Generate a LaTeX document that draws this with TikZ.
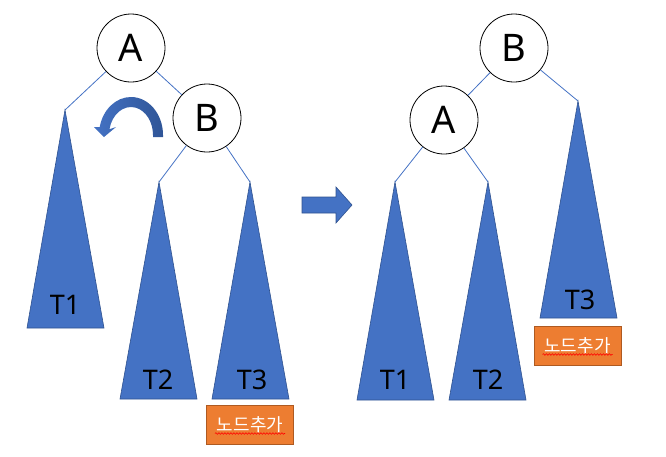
\documentclass[tikz,border=0pt]{standalone}
\usepackage{fontspec}
\setmainfont{Noto Sans}
\newfontfamily\kr{Noto Sans CJK KR}
\usetikzlibrary{decorations.pathmorphing}
\definecolor{tblue}{HTML}{4472C4}
\definecolor{tborder}{HTML}{2F528F}
\definecolor{dblue}{HTML}{2F5597}
\definecolor{torange}{HTML}{ED7D31}
\definecolor{oborder}{HTML}{AE5A21}
\tikzset{
  treenode/.style={circle, draw=black, line width=0.8pt, fill=white, minimum size=68pt, inner sep=0pt, font=\fontsize{38}{40}\selectfont},
  edge/.style={draw=tblue, line width=0.8pt},
  subtree/.style={fill=tblue, draw=tborder, line width=0.6pt},
  tlabel/.style={font=\fontsize{27}{30}\selectfont, inner sep=0pt},
  addbox/.style={fill=torange, draw=oborder, line width=0.8pt, minimum width=87pt, minimum height=39pt, inner sep=0pt, text=white, font=\kr\fontsize{18}{20}\selectfont},
  squiggle/.style={draw=red, line width=0.6pt, decorate, decoration={snake, amplitude=0.8pt, segment length=3pt}},
  blockarrow/.style={fill=tblue, draw=tborder, line width=0.6pt}
}
\begin{document}
\begin{tikzpicture}[x=1pt,y=-1pt]
\useasboundingbox (0,0) rectangle (666,456);
% ---------- left tree ----------
\node[treenode] (A1) at (131,48) {A};
\node[treenode] (B1) at (207,118) {B};
\coordinate (t1a) at (65,110);
\coordinate (t2a) at (159,182);
\coordinate (t3a) at (250,182);
\draw[edge] (A1) -- (B1);
\draw[edge] (A1) -- (t1a);
\draw[edge] (B1) -- (t2a);
\draw[edge] (B1) -- (t3a);
\path[subtree] (t1a) -- (27,328) -- (104,328) -- cycle;
\path[subtree] (t2a) -- (120,399) -- (197,399) -- cycle;
\path[subtree] (t3a) -- (212,399) -- (289,399) -- cycle;
\node[tlabel] (l1) at (65,305) {T1};
\node[tlabel] (l2) at (158,380) {T2};
\node[tlabel] (l3) at (252,380) {T3};
\node[addbox] (add1) at (250,424.5) {노드추가};
\draw[squiggle] ([shift={(-35,9)}]add1.center) -- ([shift={(35,9)}]add1.center);
% rotation arrow
\path[left color=tblue, right color=dblue]
  (163,137) -- (163,135) arc[start angle=0, end angle=-168, x radius=32, y radius=38]
  -- (94,127) -- (104,137) -- (116,127) -- (109.48,129.2)
  arc[start angle=-168, end angle=0, x radius=22, y radius=28]
  -- (153,137) -- cycle;
% ---------- middle arrow ----------
\path[blockarrow] (302,197) -- (336,197) -- (336,187) -- (352,205) -- (336,223) -- (336,213) -- (302,213) -- cycle;
% ---------- right tree ----------
\node[treenode] (B2) at (514,48) {B};
\node[treenode] (A2) at (444,120) {A};
\coordinate (r1a) at (395,182);
\coordinate (r2a) at (488,182);
\coordinate (r3a) at (578,101);
\draw[edge] (B2) -- (A2);
\draw[edge] (B2) -- (r3a);
\draw[edge] (A2) -- (r1a);
\draw[edge] (A2) -- (r2a);
\path[subtree] (r1a) -- (357,400) -- (434,400) -- cycle;
\path[subtree] (r2a) -- (449,400) -- (526,400) -- cycle;
\path[subtree] (r3a) -- (540,318) -- (617,318) -- cycle;
\node[tlabel] (m1) at (395,380) {T1};
\node[tlabel] (m2) at (488,380) {T2};
\node[tlabel] (m3) at (580,300) {T3};
\node[addbox] (add2) at (577.5,345.5) {노드추가};
\draw[squiggle] ([shift={(-35,9)}]add2.center) -- ([shift={(35,9)}]add2.center);
\end{tikzpicture}
\end{document}
